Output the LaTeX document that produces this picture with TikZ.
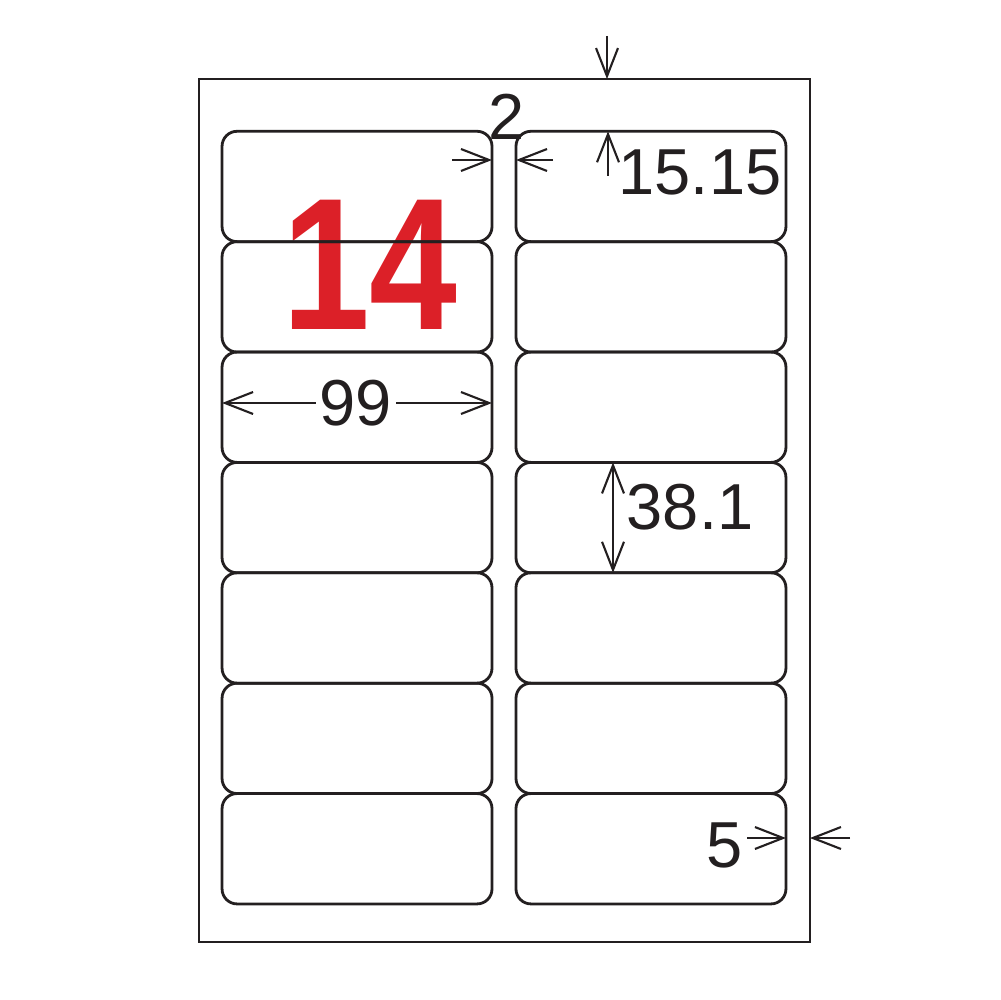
\documentclass[tikz,border=0pt]{standalone}
\usepackage{fontspec}
\setmainfont{Liberation Sans}
\usepackage{tikz}
\usetikzlibrary{matrix,positioning,calc,arrows.meta}

\definecolor{inkgray}{RGB}{35,31,32}
\definecolor{labelred}{RGB}{220,32,40}

\tikzset{
    labelbox/.style={shape=rectangle, draw=inkgray, line width=1.6pt, rounded corners=0.3cm,
        minimum width=5.4cm, minimum height=2.208cm, outer sep=0pt, inner sep=0pt, anchor=center},
    dimarrow/.style={draw=inkgray, line width=1.2pt, -{Straight Barb[length=16pt,width=12.5pt]}},
    twoarrow/.style={draw=inkgray, line width=1.2pt, {Straight Barb[length=16pt,width=12.5pt]}-{Straight Barb[length=16pt,width=12.5pt]}},
    dimtext/.style={text=inkgray, inner sep=2pt, font=\fontsize{37}{40}\selectfont},
}

\begin{document}
\begin{tikzpicture}[x=0.02cm, y=-0.02cm]
        \useasboundingbox (0,0) rectangle (1000,1000);
        \node[text=labelred, inner sep=0pt, font=\fontsize{107}{107}\selectfont\bfseries] (count) at (370,265) {\scalebox{0.84}[1]{14}};
        \matrix(sheet) at (504,517.6) [matrix of nodes, row sep=-1.6pt, column sep={0.48cm-1.6pt}, nodes in empty cells,
        inner sep=0pt, outer sep=0pt, nodes={labelbox},
        ampersand replacement=\&,] {
            \& \\
            \& \\
            \& \\
            \& \\
            \& \\
            \& \\
            \& \\
        };
        \node[draw=inkgray, line width=1.6pt, minimum width=12.22cm, minimum height=17.26cm, inner sep=0pt, outer sep=0pt] (page) at (504.5,510.5) {};
        \coordinate (topmark) at (607,36);
        \draw[dimarrow] (topmark) -- (topmark |- page.north);
        \node[dimtext] (gap) at (507,117) {2};
        \coordinate (gapleft) at (452,160);
        \coordinate (gapright) at (553,160);
        \draw[dimarrow] (gapleft) -- (gapleft -| sheet-1-1.east);
        \draw[dimarrow] (gapright) -- (gapright -| sheet-1-2.west);
        \coordinate (topmargin) at (608,176);
        \draw[dimarrow] (topmargin) -- (topmargin |- sheet-1-2.north);
        \node[dimtext] (margintop) at (700,172) {15.15};
        \node[dimtext] (width) at (356,403) {99};
        \draw[dimarrow] (width.west) -- (width.west -| sheet-3-1.west);
        \draw[dimarrow] (width.east) -- (width.east -| sheet-3-1.east);
        \coordinate (heightmark) at (613,518);
        \draw[twoarrow] (heightmark |- sheet-4-2.north) -- (heightmark |- sheet-4-2.south);
        \node[dimtext] (height) at (690,507) {38.1};
        \node[dimtext] (sidemargin) at (725,845) {5};
        \coordinate (sideleft) at (747,838);
        \coordinate (sideright) at (850,838);
        \draw[dimarrow] (sideleft) -- (sideleft -| sheet-7-2.east);
        \draw[dimarrow] (sideright) -- (sideright -| page.east);
        \end{tikzpicture}
\end{document}
